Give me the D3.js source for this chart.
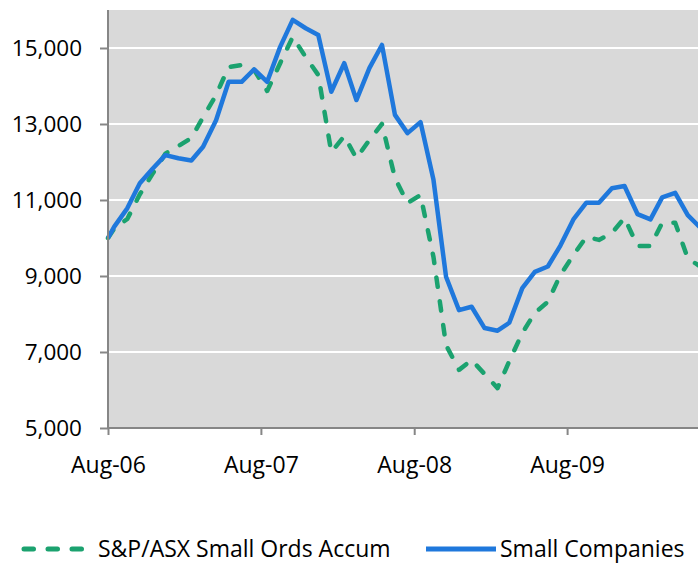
<!DOCTYPE html>
<html>
<head>
<meta charset="utf-8">
<script src="https://cdn.jsdelivr.net/npm/d3@7"></script>
<style>
  body { margin: 0; background: #fff; }
  text { font-family: "Open Sans", sans-serif; fill: #000; }
</style>
</head>
<body>
<div class="chart"></div>
<script>
const width = 698
const height = 565

// growth of 10,000 - first point is the start value, then one value per month (mid-month)
const startDate = "2006-08-01"
const firstMonth = "2006-08-16"

const smallOrds = [10000,
  10250, 10500, 11150, 11700, 12220, 12420, 12630, 13180, 13760, 14500, 14550, 14420,
  13870, 14600, 15290, 14760, 14290, 12260, 12680, 12100, 12580, 13000, 11580, 10920,
  11130, 9500, 7180, 6530, 6790, 6420, 6050, 6760, 7500, 8030, 8320, 9030,
  9550, 10030, 9950, 10130, 10530, 9790, 9790, 10400, 10400, 9470, 9240]

const smallCos = [10000,
  10300, 10780, 11440, 11830, 12180, 12100, 12040, 12400, 13100, 14110, 14110, 14440,
  14110, 15030, 15740, 15520, 15340, 13850, 14600, 13630, 14470, 15080, 13240, 12760,
  13050, 11530, 8980, 8100, 8190, 7630, 7560, 7770, 8680, 9110, 9250, 9800,
  10490, 10930, 10930, 11310, 11370, 10630, 10490, 11070, 11190, 10600, 10260]

const seriesNames = ["S&P/ASX Small Ords Accum", "Small Companies"]
const yTicks = [5000, 7000, 9000, 11000, 13000, 15000]
const xTickLabels = ["Aug-06", "Aug-07", "Aug-08", "Aug-09"]

const parse = d3.timeParse("%Y-%m-%d")
const dates = [parse(startDate)].concat(
  d3.range(smallOrds.length - 1).map(i => d3.timeMonth.offset(parse(firstMonth), i)))
const xTickDates = xTickLabels.map(s => d3.timeParse("%b-%y")(s))

function drawChart(){
  const left = 108, top = 10, bottom = 428

  const x = d3.scaleTime()
    .domain([parse("2006-08-01"), parse("2010-08-01")])
    .range([left, left + 4 * 153])

  const y = d3.scaleLinear()
    .domain([5000, 16000])
    .range([bottom, top])

  const svg = d3.create("svg")
    .attr("width", width)
    .attr("height", height)
    .attr("viewBox", [0, 0, width, height])

  svg.append("rect")
    .attr("x", left)
    .attr("y", top)
    .attr("width", width - left)
    .attr("height", bottom - top)
    .attr("fill", "#d9d9d9")

  // gridlines
  svg.append("g")
    .selectAll("line")
    .data(yTicks.slice(1))
    .join("line")
    .attr("x1", left)
    .attr("x2", width)
    .attr("y1", d => y(d))
    .attr("y2", d => y(d))
    .attr("stroke", "#fff")
    .attr("stroke-width", 2)

  const line = d3.line()
    .x((d, i) => x(dates[i]))
    .y(d => y(d))

  svg.append("path")
    .datum(smallOrds)
    .attr("fill", "none")
    .attr("stroke", "#1ba26f")
    .attr("stroke-width", 4.5)
    .attr("stroke-linecap", "round")
    .attr("stroke-linejoin", "round")
    .attr("stroke-dasharray", "9.5,14.5")
    .attr("d", line)

  svg.append("path")
    .datum(smallCos)
    .attr("fill", "none")
    .attr("stroke", "#1f78dc")
    .attr("stroke-width", 4.5)
    .attr("stroke-linejoin", "round")
    .attr("d", line)

  const yAxis = svg.append("g")
    .attr("transform", `translate(${left},0)`)
    .call(d3.axisLeft(y).tickValues(yTicks).tickFormat(d3.format(",")).tickSize(8).tickPadding(18))
  yAxis.select(".domain").attr("stroke", "#868686").attr("stroke-width", 2).attr("d", `M0,${top}V${bottom}`)
  yAxis.selectAll(".tick line").attr("stroke", "#868686").attr("stroke-width", 2)
  yAxis.selectAll("text").style("font-size", "22.5px").style("font-family", "'Open Sans', sans-serif").attr("fill", "#000")

  const xAxis = svg.append("g")
    .attr("transform", `translate(0,${bottom})`)
    .call(d3.axisBottom(x).tickValues(xTickDates).tickFormat(d3.timeFormat("%b-%y")).tickSize(7).tickPadding(22))
  xAxis.select(".domain").attr("stroke", "#868686").attr("stroke-width", 2).attr("d", `M${left},0H${width}`)
  xAxis.selectAll(".tick line").attr("stroke", "#868686").attr("stroke-width", 2)
  xAxis.selectAll("text").style("font-size", "23px").style("font-family", "'Open Sans', sans-serif").attr("fill", "#000")

  // legend
  const legend = svg.append("g").attr("transform", "translate(0,549)")
  legend.append("line")
    .attr("x1", 24).attr("x2", 84)
    .attr("stroke", "#1ba26f").attr("stroke-width", 5)
    .attr("stroke-linecap", "round")
    .attr("stroke-dasharray", "9.5,14.5")
  legend.append("text")
    .attr("x", 98).attr("dy", "0.35em")
    .style("font-size", "23px")
    .text(seriesNames[0])
  legend.append("line")
    .attr("x1", 426).attr("x2", 496)
    .attr("stroke", "#1f78dc").attr("stroke-width", 5)
  legend.append("text")
    .attr("x", 500).attr("dy", "0.35em")
    .style("font-size", "23px")
    .text(seriesNames[1])

  document.querySelector(".chart").append(svg.node())
}

drawChart()
</script>
</body>
</html>
